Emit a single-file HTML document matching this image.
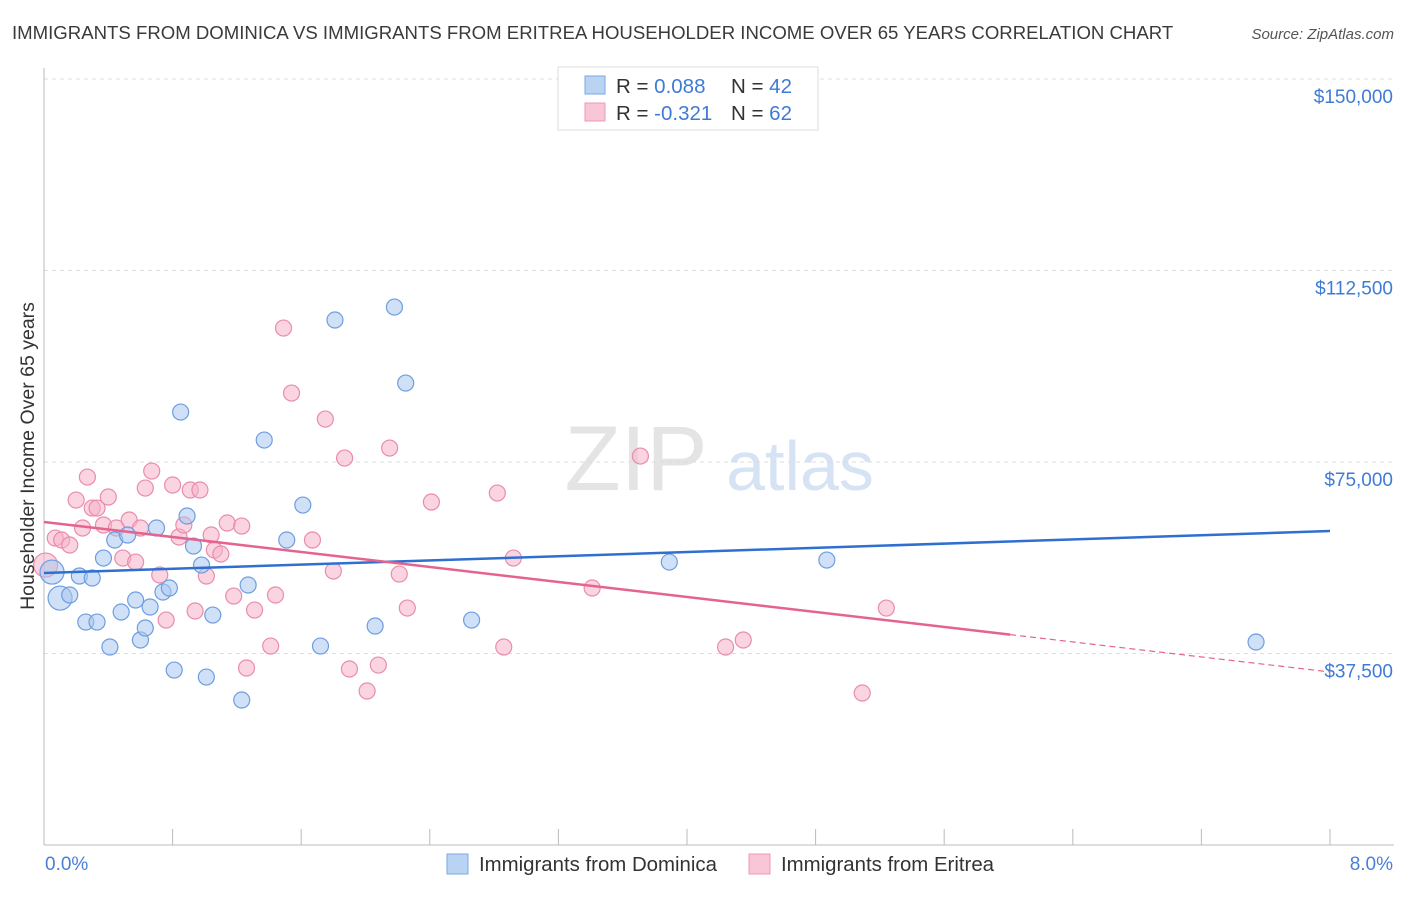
<!DOCTYPE html>
<html><head><meta charset="utf-8"><style>
body{margin:0;background:#fff;font-family:"Liberation Sans",sans-serif;}
svg text{font-family:"Liberation Sans",sans-serif;}
</style></head><body>
<svg id="chart" width="1406" height="892">
<text x="12" y="39" font-size="18.6" fill="#3a3a3a">IMMIGRANTS FROM DOMINICA VS IMMIGRANTS FROM ERITREA HOUSEHOLDER INCOME OVER 65 YEARS CORRELATION CHART</text>
<text x="1394" y="39" font-size="15" fill="#555" font-style="italic" text-anchor="end">Source: ZipAtlas.com</text>
<g><text x="636" y="490" font-size="92" fill="#e4e4e4" font-family="Liberation Serif" text-anchor="middle">ZIP</text><text x="800" y="490" font-size="70" fill="#d5e3f5" text-anchor="middle">atlas</text></g>
<g id="grid"></g><g id="marks"></g>
<text transform="translate(34,456) rotate(-90)" font-size="19.5" fill="#333" text-anchor="middle">Householder Income Over 65 years</text>
<text x="45" y="870" font-size="19" fill="#4a7fd4">0.0%</text>
<text x="1393" y="870" font-size="19" fill="#4a7fd4" text-anchor="end">8.0%</text>
<g>
<rect x="558" y="67" width="260" height="63" fill="#fff" stroke="#ddd"/>
<rect x="585" y="76" width="20" height="18" fill="#b9d3f3" stroke="#7aa7e3"/>
<rect x="585" y="103" width="20" height="18" fill="#f8c6d6" stroke="#ec9ab6"/>
<text x="616" y="93" font-size="20.5" fill="#333">R = <tspan fill="#3f7bd6">0.088</tspan><tspan x="731">N = </tspan><tspan fill="#3f7bd6">42</tspan></text>
<text x="616" y="120" font-size="20.5" fill="#333">R = <tspan fill="#3f7bd6">-0.321</tspan><tspan x="731">N = </tspan><tspan fill="#3f7bd6">62</tspan></text>
</g>
<g>
<rect x="447" y="854" width="21" height="20" fill="#b9d3f3" stroke="#7aa7e3"/>
<text x="479" y="871" font-size="20.4" fill="#333">Immigrants from Dominica</text>
<rect x="749" y="854" width="21" height="20" fill="#f8c6d6" stroke="#ec9ab6"/>
<text x="781" y="871" font-size="20.4" fill="#333">Immigrants from Eritrea</text>
</g>
</svg>
<script>
const yTicks=[37500,75000,112500,150000];
const yTickLabels=["$37,500","$75,000","$112,500","$150,000"];
const xTicks=[0,0.8,1.6,2.4,3.2,4.0,4.8,5.6,6.4,7.2,8.0];
const blueX=[0.05,0.10,0.16,0.22,0.30,0.26,0.33,0.37,0.41,0.44,0.48,0.52,0.57,0.60,0.63,0.66,0.70,0.74,0.78,0.81,0.85,0.89,0.93,0.98,1.01,1.05,1.23,1.27,1.37,1.51,1.61,1.72,1.81,2.06,2.18,2.25,2.66,3.89,4.87,7.54];
const blueY=[53450,48360,48950,52670,52280,43660,43660,56190,38770,59720,45620,60700,47970,40140,42490,46600,62070,49540,50320,34260,84780,64420,58540,54820,32890,45030,28390,50910,79300,59720,66570,38960,102800,42880,105340,90460,44050,55410,55800,39750];
const pinkX=[0.01,0.07,0.11,0.16,0.20,0.24,0.27,0.30,0.33,0.37,0.40,0.45,0.49,0.53,0.57,0.60,0.63,0.67,0.72,0.76,0.80,0.84,0.87,0.91,0.94,0.97,1.01,1.04,1.06,1.10,1.14,1.18,1.23,1.26,1.31,1.41,1.44,1.49,1.54,1.67,1.75,1.80,1.87,1.90,2.01,2.08,2.15,2.21,2.26,2.41,2.82,2.86,2.92,3.41,3.71,4.24,4.35,5.09,5.24];
const pinkY=[54820,60110,59720,58740,67550,62070,72050,65980,65980,62660,68140,62070,56190,63640,55410,62070,69900,73230,52870,44050,70490,60310,62660,69510,45820,69510,52670,60700,57760,56980,63050,48750,62460,34660,46010,38960,48950,101230,88500,59720,83410,53650,75770,34460,30150,35240,77730,53060,46400,67160,68920,38770,56190,50320,76160,38770,40140,29760,46400];
const blueTrend=[53260,61480];
const pinkTrend=[63250,33890];
const pinkSolidEnd=6.01;
const NS='http://www.w3.org/2000/svg';
const X=v=>44+v/8*1286, Y=v=>845-v/37500*191.5;
const grid=document.getElementById('grid'),marks=document.getElementById('marks');
function mk(tag,attrs,parent){const e=document.createElementNS(NS,tag);for(const k in attrs)e.setAttribute(k,attrs[k]);parent.appendChild(e);return e;}
yTicks.forEach((t,i)=>{
 const l=mk('line',{x1:44,x2:1394,y1:Y(t),y2:Y(t),stroke:'#ddd','stroke-dasharray':'4,4'},grid);
 
 
 const tx=mk('text',{x:1393,y:Y(t)+24,'font-size':19,fill:'#3f7bd6','text-anchor':'end'},grid);
 tx.textContent=yTickLabels[i];
 
 
});
const ax=mk('line',{x1:44,x2:1394,y1:845,y2:845,stroke:'#bbb'},grid);


const ay=mk('line',{x1:44,x2:44,y1:68,y2:845,stroke:'#bbb'},grid);


xTicks.forEach(t=>{
 const l=mk('line',{x1:X(t),x2:X(t),y1:829,y2:845,stroke:'#bbb'},grid);
 
 
});
function pts(xs,ys,fill,stroke,name){xs.forEach((x,i)=>{
 const big=i===0||(name==='dominica-point'&&i===1);
 const c=mk('circle',{cx:X(x),cy:Y(ys[i]),r:big?12:8,fill:fill,'fill-opacity':0.55,stroke:stroke,'stroke-width':1.2},marks);
 
 
});}
pts(pinkX,pinkY,'#f5b3c8','#e98cab','eritrea-point');
pts(blueX,blueY,'#a9c7ee','#6d9ee0','dominica-point');
const bl=mk('line',{x1:X(0),y1:Y(blueTrend[0]),x2:X(8),y2:Y(blueTrend[1]),stroke:'#2f6fd0','stroke-width':2.5},marks);


const py=x=>pinkTrend[0]+(pinkTrend[1]-pinkTrend[0])*x/8;
const pl=mk('line',{x1:X(0),y1:Y(pinkTrend[0]),x2:X(pinkSolidEnd),y2:Y(py(pinkSolidEnd)),stroke:'#e4638f','stroke-width':2.5},marks);


const pd=mk('line',{x1:X(pinkSolidEnd),y1:Y(py(pinkSolidEnd)),x2:X(8),y2:Y(pinkTrend[1]),stroke:'#e4638f','stroke-width':1.2,'stroke-dasharray':'6,4'},marks);


</script>
</body></html>
